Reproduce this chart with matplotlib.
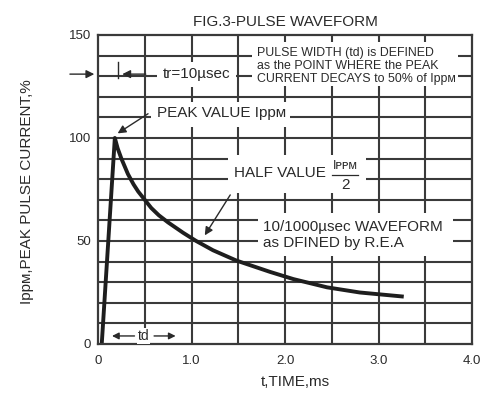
import matplotlib.pyplot as plt
from matplotlib.patches import Rectangle

plt.rcParams['font.family'] = ['Liberation Sans', 'DejaVu Sans']

# pulse: time in ms, current in % of Ippm
timeMs = [0.04, 0.18, 0.21, 0.25, 0.32, 0.38, 0.43, 0.50, 0.57, 0.65, 0.75, 0.91, 1.05,
          1.23, 1.48, 1.84, 2.09, 2.45, 2.80, 3.27]
currentPct = [0, 100, 95, 90, 82.5, 77.5, 74, 70, 66, 62.5, 59, 54, 50,
              45.5, 40.5, 35, 31.5, 27.5, 25, 23]

xTicks = [0, 1.0, 2.0, 3.0, 4.0]
xTickLabels = ['0', '1.0', '2.0', '3.0', '4.0']
yTicks = [0, 50, 100, 150]
yTickLabels = ['0', '50', '100', '150']

ink = '#2a2a2a'
gridInk = '#3a3a3a'

fig = plt.figure(figsize=(4.99, 3.98), dpi=100)
ax = fig.add_axes([0.1964, 0.1357, 0.7495, 0.7764])
ax.set_xlim(0, 4.0)
ax.set_ylim(0, 150)

# grid every 0.5 ms and every 10 %
for t in [0.5 * k for k in range(1, 8)]:
    ax.axvline(t, color=gridInk, lw=1.5, zorder=1)
for v in range(10, 150, 10):
    ax.axhline(v, color=gridInk, lw=1.5, zorder=1)

for s in ax.spines.values():
    s.set_color(gridInk)
    s.set_linewidth(1.6)

ax.set_xticks(xTicks)
ax.set_xticklabels(xTickLabels)
ax.set_yticks(yTicks)
ax.set_yticklabels(yTickLabels)
ax.tick_params(length=0, labelsize=9.5, colors=ink)
ax.tick_params(axis='x', pad=8)
ax.tick_params(axis='y', pad=5)

ax.plot(timeMs, currentPct, color='#1e1e1e', lw=2.8, solid_joinstyle='round',
        solid_capstyle='butt', zorder=2)

# white patches that break the grid behind the notes
def blank(t0, t1, v0, v1):
    ax.add_patch(Rectangle((t0, v0), t1 - t0, v1 - v0, facecolor='white',
                           edgecolor='none', zorder=3))

blank(0.634, 1.48, 124.8, 136.9)
blank(1.65, 3.85, 125.2, 146.6)
blank(0.567, 2.054, 105.3, 117.5)
blank(1.39, 2.87, 73.3, 91.7)
blank(1.71, 3.80, 42.7, 63.6)

txt = dict(color=ink, zorder=4)
arrow = dict(arrowstyle='-|>', color=ink, lw=1.0, mutation_scale=12)

# tr marker
ax.annotate('', xy=(-0.01, 131.0), xytext=(-0.33, 131.0), annotation_clip=False,
            arrowprops=arrow)
ax.plot([0.21, 0.21], [129.0, 136.9], color=ink, lw=1.0, zorder=4)
ax.annotate('', xy=(0.23, 131.0), xytext=(0.54, 131.0), arrowprops=arrow, zorder=4)
ax.text(0.695, 131.2, 'tr=10\u00b5sec', fontsize=11, ha='left', va='center', **txt)

ax.text(1.70, 135.0, 'PULSE WIDTH (td) is DEFINED\nas the POINT WHERE the PEAK\nCURRENT DECAYS to 50% of Ipp\u1d0d',
        fontsize=8.9, ha='left', va='center', linespacing=1.15, **txt)

ax.annotate('', xy=(0.185, 101.5), xytext=(0.56, 112.5), arrowprops=arrow, zorder=4)
ax.text(0.63, 112.1, 'PEAK VALUE Ipp\u1d0d', fontsize=11, ha='left', va='center', **txt)

ax.text(1.455, 83.0, 'HALF VALUE', fontsize=11, ha='left', va='center', **txt)
ax.text(2.645, 86.3, 'I\u1d18\u1d18\u1d0d', fontsize=9, ha='center', va='center', **txt)
ax.plot([2.50, 2.78], [82.0, 82.0], color=ink, lw=0.9, zorder=4)
ax.text(2.645, 77.3, '2', fontsize=11, ha='center', va='center', **txt)

ax.annotate('', xy=(1.126, 51.6), xytext=(1.43, 73.5), arrowprops=arrow, zorder=4)
ax.text(1.768, 53.0, '10/1000\u00b5sec WAVEFORM\nas DFINED by R.E.A', fontsize=11,
        ha='left', va='center', linespacing=1.14, **txt)

# td span
small = dict(arrow, mutation_scale=10)
ax.annotate('', xy=(0.12, 3.9), xytext=(0.42, 3.9), arrowprops=small, zorder=4)
ax.annotate('', xy=(0.86, 3.9), xytext=(0.57, 3.9), arrowprops=small, zorder=4)
ax.text(0.49, 3.9, 'td', fontsize=10, ha='center', va='center',
        bbox=dict(facecolor='white', edgecolor='none', pad=0.5), **txt)

fig.text(0.573, 0.945, 'FIG.3-PULSE WAVEFORM', fontsize=11, ha='center', va='center', color=ink)
fig.text(0.054, 0.518, 'Ipp\u1d0d,PEAK PULSE CURRENT,%', fontsize=11, rotation=90,
         ha='center', va='center', color=ink)
fig.text(0.591, 0.040, 't,TIME,ms', fontsize=11, ha='center', va='center', color=ink)

fig.savefig('out.png', dpi=100)
